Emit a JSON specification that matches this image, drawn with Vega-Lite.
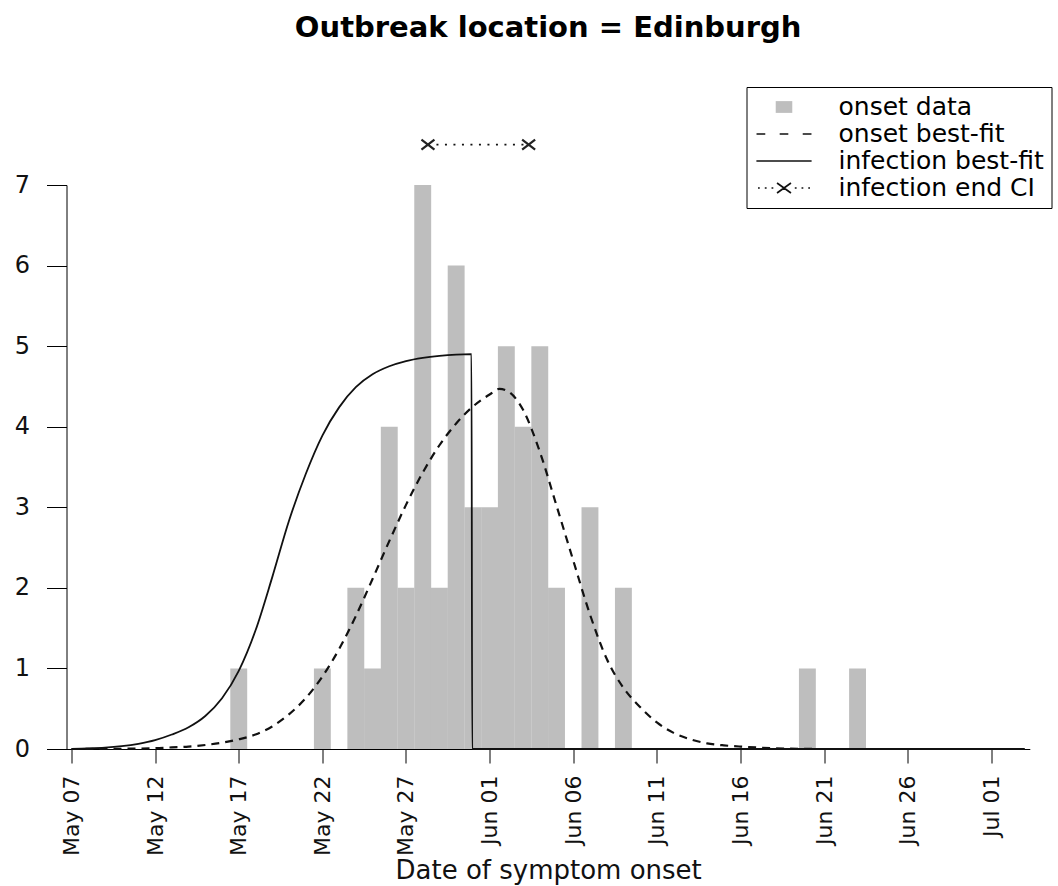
{
  "$schema": "https://vega.github.io/schema/vega-lite/v6.json",
  "autosize": {"type": "none"},
  "padding": {"left": 66.5, "top": 185, "right": 28.2, "bottom": 137},
  "width": 963.3,
  "height": 564,
  "title": {"text": "Outbreak location = Edinburgh", "font": "DejaVu Sans", "fontSize": 29, "fontWeight": "bold", "color": "black", "frame": "group", "anchor": "middle", "offset": 44},
  "config": {
    "view": {"stroke": null},
    "axis": {"grid": false, "domainColor": "black", "tickColor": "black", "labelColor": "#111", "titleColor": "#111", "domainWidth": 1, "tickWidth": 1}
  },
  "data": {"values": [
    {"series": "onset data", "date": "2009-05-17T00:00", "y": 1},
    {"series": "onset data", "date": "2009-05-22T00:00", "y": 1},
    {"series": "onset data", "date": "2009-05-24T00:00", "y": 2},
    {"series": "onset data", "date": "2009-05-25T00:00", "y": 1},
    {"series": "onset data", "date": "2009-05-26T00:00", "y": 4},
    {"series": "onset data", "date": "2009-05-27T00:00", "y": 2},
    {"series": "onset data", "date": "2009-05-28T00:00", "y": 7},
    {"series": "onset data", "date": "2009-05-29T00:00", "y": 2},
    {"series": "onset data", "date": "2009-05-30T00:00", "y": 6},
    {"series": "onset data", "date": "2009-05-31T00:00", "y": 3},
    {"series": "onset data", "date": "2009-06-01T00:00", "y": 3},
    {"series": "onset data", "date": "2009-06-02T00:00", "y": 5},
    {"series": "onset data", "date": "2009-06-03T00:00", "y": 4},
    {"series": "onset data", "date": "2009-06-04T00:00", "y": 5},
    {"series": "onset data", "date": "2009-06-05T00:00", "y": 2},
    {"series": "onset data", "date": "2009-06-07T00:00", "y": 3},
    {"series": "onset data", "date": "2009-06-09T00:00", "y": 2},
    {"series": "onset data", "date": "2009-06-20T00:00", "y": 1},
    {"series": "onset data", "date": "2009-06-23T00:00", "y": 1},

    {"series": "onset best-fit", "date": "2009-05-07T00:00", "y": 0},
    {"series": "onset best-fit", "date": "2009-05-10T00:00", "y": 0.003},
    {"series": "onset best-fit", "date": "2009-05-12T00:00", "y": 0.01},
    {"series": "onset best-fit", "date": "2009-05-13T00:00", "y": 0.02},
    {"series": "onset best-fit", "date": "2009-05-14T00:00", "y": 0.03},
    {"series": "onset best-fit", "date": "2009-05-15T00:00", "y": 0.05},
    {"series": "onset best-fit", "date": "2009-05-16T00:00", "y": 0.078},
    {"series": "onset best-fit", "date": "2009-05-17T00:00", "y": 0.12},
    {"series": "onset best-fit", "date": "2009-05-18T00:00", "y": 0.18},
    {"series": "onset best-fit", "date": "2009-05-19T00:00", "y": 0.28},
    {"series": "onset best-fit", "date": "2009-05-20T00:00", "y": 0.43},
    {"series": "onset best-fit", "date": "2009-05-21T00:00", "y": 0.63},
    {"series": "onset best-fit", "date": "2009-05-22T00:00", "y": 0.9},
    {"series": "onset best-fit", "date": "2009-05-23T00:00", "y": 1.24},
    {"series": "onset best-fit", "date": "2009-05-24T00:00", "y": 1.65},
    {"series": "onset best-fit", "date": "2009-05-25T00:00", "y": 2.11},
    {"series": "onset best-fit", "date": "2009-05-26T00:00", "y": 2.58},
    {"series": "onset best-fit", "date": "2009-05-27T00:00", "y": 3.03},
    {"series": "onset best-fit", "date": "2009-05-28T00:00", "y": 3.43},
    {"series": "onset best-fit", "date": "2009-05-29T00:00", "y": 3.77},
    {"series": "onset best-fit", "date": "2009-05-30T00:00", "y": 4.04},
    {"series": "onset best-fit", "date": "2009-05-31T00:00", "y": 4.25},
    {"series": "onset best-fit", "date": "2009-06-01T00:00", "y": 4.4},
    {"series": "onset best-fit", "date": "2009-06-01T14:00", "y": 4.47},
    {"series": "onset best-fit", "date": "2009-06-02T00:00", "y": 4.45},
    {"series": "onset best-fit", "date": "2009-06-03T00:00", "y": 4.21},
    {"series": "onset best-fit", "date": "2009-06-04T00:00", "y": 3.69},
    {"series": "onset best-fit", "date": "2009-06-05T00:00", "y": 3.02},
    {"series": "onset best-fit", "date": "2009-06-06T00:00", "y": 2.34},
    {"series": "onset best-fit", "date": "2009-06-07T00:00", "y": 1.67},
    {"series": "onset best-fit", "date": "2009-06-08T00:00", "y": 1.12},
    {"series": "onset best-fit", "date": "2009-06-09T00:00", "y": 0.76},
    {"series": "onset best-fit", "date": "2009-06-10T00:00", "y": 0.52},
    {"series": "onset best-fit", "date": "2009-06-11T00:00", "y": 0.33},
    {"series": "onset best-fit", "date": "2009-06-12T00:00", "y": 0.2},
    {"series": "onset best-fit", "date": "2009-06-13T00:00", "y": 0.12},
    {"series": "onset best-fit", "date": "2009-06-14T00:00", "y": 0.07},
    {"series": "onset best-fit", "date": "2009-06-15T00:00", "y": 0.045},
    {"series": "onset best-fit", "date": "2009-06-16T00:00", "y": 0.03},
    {"series": "onset best-fit", "date": "2009-06-18T00:00", "y": 0.01},
    {"series": "onset best-fit", "date": "2009-06-21T00:00", "y": 0},
    {"series": "onset best-fit", "date": "2009-07-03T00:00", "y": 0},

    {"series": "infection best-fit", "date": "2009-05-07T00:00", "y": 0},
    {"series": "infection best-fit", "date": "2009-05-08T00:00", "y": 0.006},
    {"series": "infection best-fit", "date": "2009-05-09T00:00", "y": 0.016},
    {"series": "infection best-fit", "date": "2009-05-10T00:00", "y": 0.035},
    {"series": "infection best-fit", "date": "2009-05-11T00:00", "y": 0.065},
    {"series": "infection best-fit", "date": "2009-05-12T00:00", "y": 0.11},
    {"series": "infection best-fit", "date": "2009-05-13T00:00", "y": 0.18},
    {"series": "infection best-fit", "date": "2009-05-14T00:00", "y": 0.27},
    {"series": "infection best-fit", "date": "2009-05-15T00:00", "y": 0.41},
    {"series": "infection best-fit", "date": "2009-05-16T00:00", "y": 0.63},
    {"series": "infection best-fit", "date": "2009-05-17T00:00", "y": 0.97},
    {"series": "infection best-fit", "date": "2009-05-18T00:00", "y": 1.47},
    {"series": "infection best-fit", "date": "2009-05-19T00:00", "y": 2.13},
    {"series": "infection best-fit", "date": "2009-05-20T00:00", "y": 2.83},
    {"series": "infection best-fit", "date": "2009-05-21T00:00", "y": 3.41},
    {"series": "infection best-fit", "date": "2009-05-22T00:00", "y": 3.89},
    {"series": "infection best-fit", "date": "2009-05-23T00:00", "y": 4.24},
    {"series": "infection best-fit", "date": "2009-05-24T00:00", "y": 4.49},
    {"series": "infection best-fit", "date": "2009-05-25T00:00", "y": 4.65},
    {"series": "infection best-fit", "date": "2009-05-26T00:00", "y": 4.75},
    {"series": "infection best-fit", "date": "2009-05-27T00:00", "y": 4.815},
    {"series": "infection best-fit", "date": "2009-05-28T00:00", "y": 4.855},
    {"series": "infection best-fit", "date": "2009-05-29T00:00", "y": 4.88},
    {"series": "infection best-fit", "date": "2009-05-30T00:00", "y": 4.895},
    {"series": "infection best-fit", "date": "2009-05-30T22:00", "y": 4.9},
    {"series": "infection best-fit", "date": "2009-05-30T23:00", "y": 0},
    {"series": "infection best-fit", "date": "2009-07-03T00:00", "y": 0},

    {"series": "infection end CI", "date": "2009-05-28T07:30", "y": 7.5},
    {"series": "infection end CI", "date": "2009-06-03T08:00", "y": 7.5}
  ]},
  "encoding": {
    "x": {
      "field": "date", "type": "temporal",
      "scale": {"domain": [{"year": 2009, "month": 5, "date": 7}, {"year": 2009, "month": 7, "date": 3}], "nice": false},
      "axis": {
        "values": [
          {"year": 2009, "month": 5, "date": 7}, {"year": 2009, "month": 5, "date": 12}, {"year": 2009, "month": 5, "date": 17},
          {"year": 2009, "month": 5, "date": 22}, {"year": 2009, "month": 5, "date": 27}, {"year": 2009, "month": 6, "date": 1},
          {"year": 2009, "month": 6, "date": 6}, {"year": 2009, "month": 6, "date": 11}, {"year": 2009, "month": 6, "date": 16},
          {"year": 2009, "month": 6, "date": 21}, {"year": 2009, "month": 6, "date": 26}, {"year": 2009, "month": 7, "date": 1}
        ],
        "format": "%b %d",
        "labelAngle": 270,
        "labelFont": "DejaVu Sans", "labelFontSize": 22,
        "labelOverlap": false, "labelFlush": false, "labelBound": false,
        "tickSize": 14, "labelPadding": 12,
        "title": "Date of symptom onset",
        "titleFont": "DejaVu Sans", "titleFontSize": 26, "titleFontWeight": "normal", "titlePadding": 2
      }
    },
    "y": {
      "field": "y", "type": "quantitative",
      "scale": {"domain": [0, 7], "nice": false, "zero": true},
      "axis": {
        "values": [0, 1, 2, 3, 4, 5, 6, 7], "format": "d",
        "labelFont": "DejaVu Sans", "labelFontSize": 24,
        "tickSize": 20, "labelPadding": 17, "title": null
      }
    }
  },
  "layer": [
    {
      "transform": [{"filter": "datum.series === 'onset data'"}],
      "mark": {"type": "bar", "width": 16.9, "color": "#bebebe"}
    },
    {
      "transform": [{"filter": "datum.series === 'onset best-fit'"}],
      "mark": {"type": "line", "color": "#111", "strokeWidth": 2.2, "strokeDash": [8, 6], "interpolate": "monotone"}
    },
    {
      "transform": [{"filter": "datum.series === 'infection best-fit'"}],
      "mark": {"type": "line", "color": "#111", "strokeWidth": 1.8, "interpolate": "monotone"}
    },
    {
      "transform": [{"filter": "datum.series === 'infection end CI'"}],
      "mark": {"type": "line", "color": "#111", "strokeWidth": 1.8, "strokeDash": [2, 6.5]}
    },
    {
      "transform": [{"filter": "datum.series === 'infection end CI'"}],
      "mark": {"type": "point", "filled": false, "size": 169, "strokeWidth": 2.2, "color": "#222", "opacity": 1, "shape": "M-1,-0.77L1,0.77M-1,0.77L1,-0.77"}
    },
    {
      "transform": [{"filter": "false"}],
      "mark": {"type": "point", "filled": false, "size": 576, "strokeWidth": 1.7, "opacity": 1},
      "encoding": {
        "shape": {
          "field": "series", "type": "nominal",
          "scale": {
            "domain": ["onset data", "onset best-fit", "infection best-fit", "infection end CI"],
            "range": [
              "M-0.69,-0.49H0.69V0.49H-0.69Z",
              "M-2.29,0H-1.56M-0.36,0H0.36M1.56,0H2.29",
              "M-2.3,0H2.3",
              "M-2.17,0h0.15M-1.6,0h0.15M-1.04,0h0.15M0.9,0h0.15M1.46,0h0.15M2.02,0h0.15M-0.58,-0.42L0.58,0.42M-0.58,0.42L0.58,-0.42"
            ]
          },
          "legend": {
            "orient": "none", "legendX": 680, "legendY": -98,
            "title": null, "padding": 7,
            "symbolSize": 576, "symbolOffset": 17.5, "labelOffset": 41.5, "symbolStrokeWidth": 1.7,
            "labelFont": "DejaVu Sans", "labelFontSize": 25, "labelColor": "black", "labelLimit": 400,
            "rowPadding": 1, "strokeColor": "black", "fillColor": "white", "cornerRadius": 0, "symbolOpacity": 1
          }
        },
        "fill": {
          "field": "series", "type": "nominal",
          "scale": {
            "domain": ["onset data", "onset best-fit", "infection best-fit", "infection end CI"],
            "range": ["#bebebe", "transparent", "transparent", "transparent"]
          },
          "legend": {
            "orient": "none", "legendX": 680, "legendY": -98,
            "title": null, "padding": 7,
            "symbolSize": 576, "symbolOffset": 17.5, "labelOffset": 41.5, "symbolStrokeWidth": 1.7,
            "labelFont": "DejaVu Sans", "labelFontSize": 25, "labelColor": "black", "labelLimit": 400,
            "rowPadding": 1, "strokeColor": "black", "fillColor": "white", "cornerRadius": 0, "symbolOpacity": 1
          }
        },
        "stroke": {
          "field": "series", "type": "nominal",
          "scale": {
            "domain": ["onset data", "onset best-fit", "infection best-fit", "infection end CI"],
            "range": ["transparent", "#111111", "#111111", "#111111"]
          },
          "legend": {
            "orient": "none", "legendX": 680, "legendY": -98,
            "title": null, "padding": 7,
            "symbolSize": 576, "symbolOffset": 17.5, "labelOffset": 41.5, "symbolStrokeWidth": 1.7,
            "labelFont": "DejaVu Sans", "labelFontSize": 25, "labelColor": "black", "labelLimit": 400,
            "rowPadding": 1, "strokeColor": "black", "fillColor": "white", "cornerRadius": 0, "symbolOpacity": 1
          }
        }
      }
    }
  ]
}
